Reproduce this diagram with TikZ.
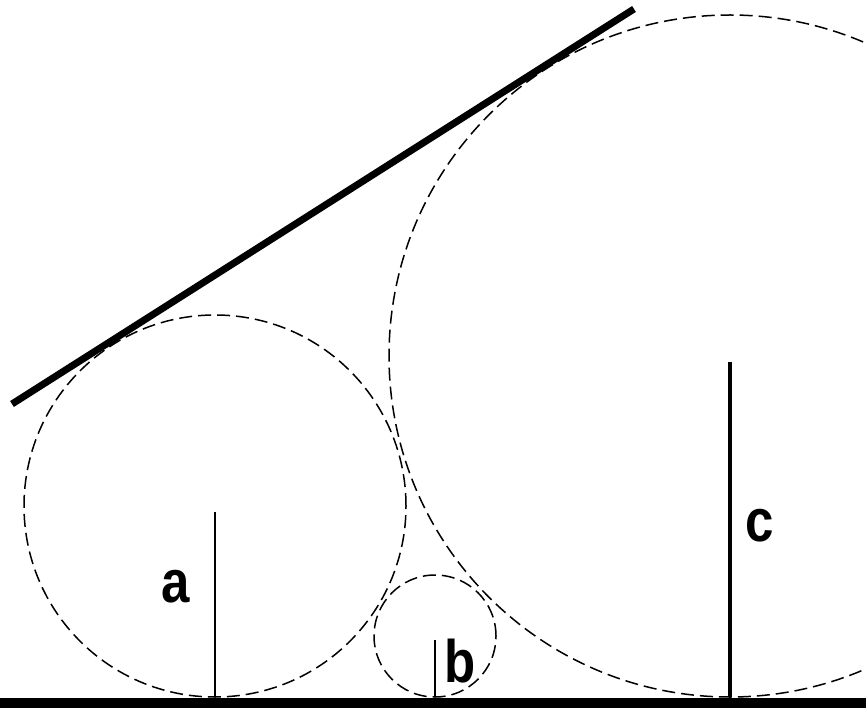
\documentclass[tikz,border=0pt]{standalone}
\usepackage{fontspec}
\newfontfamily\labfont{Liberation Sans}
\begin{document}
\begin{tikzpicture}[x=1pt,y=-1pt,
  circ/.style={circle,draw,line width=1.5pt,dash pattern=on 13pt off 6pt,inner sep=0pt,outer sep=0pt},
  radius line/.style={draw,line width=#1},
  lab/.style={anchor=base,inner sep=0pt,font=\labfont\bfseries\fontsize{60}{60}\selectfont}]
\useasboundingbox (0,0) rectangle (866,708);
\clip (0,0) rectangle (866,708);
\fill[white] (0,0) rectangle (866,708);
% circles
\node[circ,minimum size=382pt] (A) at (215,506) {};
\node[circ,minimum size=122pt] (B) at (435,636) {};
\node[circ,minimum size=682pt] (C) at (730,356) {};
% ground
\node[fill=black,inner sep=0pt,minimum width=866pt,minimum height=11pt,anchor=north west] (G) at (0,697.5) {};
% tangent line
\coordinate (T1) at (12,404);
\coordinate (T2) at (634,9);
\draw[line width=7pt] (T1) -- (T2);
% radii
\draw[radius line=2pt] ([yshift=-6pt]A.center) -- (A.south);
\draw[radius line=2pt] ([yshift=-4pt]B.center) -- (B.south);
\draw[radius line=3.5pt] ([yshift=-6pt]C.center) -- (C.south);
% labels
\node[lab] (la) at (175.5,602) {\scalebox{0.85}[1]{a}};
\node[lab] (lb) at (460,682) {\scalebox{0.85}[1]{b}};
\node[lab] (lc) at (760,541) {\scalebox{0.85}[1]{c}};
\end{tikzpicture}
\end{document}
